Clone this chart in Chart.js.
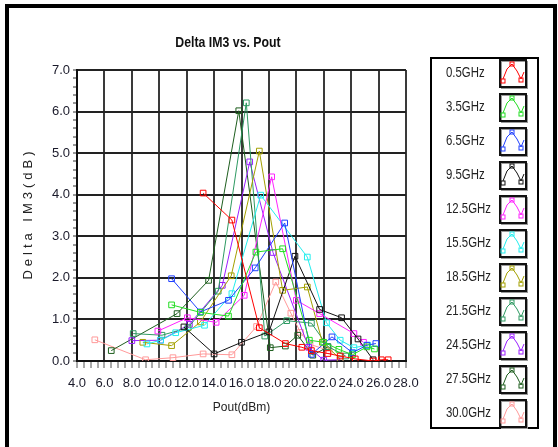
<!DOCTYPE html>
<html>
<head>
<meta charset="utf-8">
<script src="https://cdn.jsdelivr.net/npm/chart.js@4"></script>
<style>
html, body { margin: 0; padding: 0; background: #fff; }
#wrap { width: 558px; height: 447px; position: relative; }
</style>
</head>
<body>
<div id="wrap"><canvas id="chart"></canvas></div>
<script>
// frequencies shown in the legend
const freqLabels = ["0.5GHz", "3.5GHz", "6.5GHz", "9.5GHz", "12.5GHz", "15.5GHz",
                    "18.5GHz", "21.5GHz", "24.5GHz", "27.5GHz", "30.0GHz"];
const freqColors = ["#ff0000", "#22dd22", "#1f3fff", "#111111", "#ff22ff", "#22eeee",
                    "#a3a000", "#2e9a62", "#9a1fff", "#1e5e1e", "#ff9a9a"];

// Pout (dBm) / Delta IM3 (dB)
const pout05 = [13.2, 15.3, 17.3, 19.2, 20.4, 21.1, 22.3, 23.2, 24.3, 25.6, 26.2, 26.7];
const dim05  = [4.04, 3.39, 0.80, 0.42, 0.33, 0.25, 0.18, 0.12, 0.05, 0.0, 0.03, 0.03];

const pout35 = [10.9, 13.0, 15.05, 17.05, 19.0, 20.95, 22.0, 23.1, 24.1, 25.15, 25.7];
const dim35  = [1.35, 1.17, 1.08, 2.62, 2.70, 0.50, 0.45, 0.28, 0.15, 0.34, 0.29];

const pout65 = [10.9, 13.0, 15.05, 17.0, 19.15, 21.1, 22.6, 24.1, 25.15, 25.8];
const dim65  = [1.98, 1.18, 1.46, 2.24, 3.32, 0.16, 0.58, 0.20, 0.38, 0.42];

const pout95 = [11.8, 14.0, 16.0, 18.0, 19.9, 21.7, 23.3, 24.5, 25.6];
const dim95  = [0.82, 0.17, 0.45, 0.70, 2.52, 1.24, 1.04, 0.53, 0.03];

const pout125 = [9.9, 12.05, 14.15, 16.2, 18.2, 20.0, 21.7, 24.2, 24.9];
const dim125  = [0.72, 1.04, 0.93, 1.58, 4.43, 1.46, 1.14, 0.66, 0.45];

const pout155 = [9.1, 10.1, 11.2, 13.3, 15.3, 17.4, 20.8, 22.2, 23.2, 24.2, 25.2];
const dim155  = [0.41, 0.50, 0.68, 0.86, 1.62, 3.99, 2.50, 0.92, 0.50, 0.32, 0.38];

const pout185 = [8.8, 10.9, 13.0, 15.25, 17.3, 19.0, 20.8, 21.9, 23.2];
const dim185  = [0.45, 0.37, 0.94, 2.05, 5.05, 1.70, 1.78, 0.45, 0.05];

const pout215 = [8.1, 10.2, 12.1, 14.3, 16.35, 17.7, 19.3, 21.1, 22.3, 23.6];
const dim215  = [0.66, 0.62, 0.80, 1.68, 6.21, 0.60, 0.97, 0.91, 0.35, 0.12];

const pout245 = [8.0, 10.1, 12.2, 14.6, 16.6, 18.3, 20.9, 22.0, 23.2];
const dim245  = [0.49, 0.50, 0.88, 1.82, 4.79, 2.61, 0.33, 0.02, 0.03];

const pout275 = [6.5, 11.3, 13.6, 15.8, 18.1, 19.2, 20.1, 21.2, 22.3];
const dim275  = [0.25, 1.14, 1.94, 6.02, 0.32, 0.36, 0.62, 0.14, 0.34];

const pout300 = [5.3, 9.0, 11.0, 13.2, 15.3, 17.1, 18.5, 19.6, 20.3, 21.0, 22.4];
const dim300  = [0.51, 0.03, 0.08, 0.17, 0.15, 0.83, 1.90, 1.15, 0.69, 0.40, 0.25];

const allPout = [pout05, pout35, pout65, pout95, pout125, pout155, pout185, pout215, pout245, pout275, pout300];
const allDim  = [dim05, dim35, dim65, dim95, dim125, dim155, dim185, dim215, dim245, dim275, dim300];

const plain = "'Liberation Sans', Arial, sans-serif";

function onStep(v, step) {
    const r = v / step;
    return Math.abs(r - Math.round(r)) < 1e-6;
}

// squeezed text, the original uses a narrow font
function narrowText(ctx, text, x, y, sx, align) {
    ctx.save();
    ctx.translate(x, y);
    ctx.scale(sx, 1);
    ctx.textAlign = align;
    ctx.textBaseline = "middle";
    ctx.fillText(text, 0, 0);
    ctx.restore();
}

const datasets = freqLabels.map((name, i) => ({
    label: name,
    data: allPout[i].map((x, k) => ({ x: x, y: allDim[i][k] })),
    showLine: true,
    borderColor: freqColors[i],
    borderWidth: 1,
    pointStyle: "rect",
    pointRadius: 4,
    pointBorderWidth: 1,
    pointBorderColor: freqColors[i],
    pointBackgroundColor: "rgba(255,255,255,0)"
}));

// frame, title, y title and the boxed legend on the right
const decorations = {
    id: "decorations",
    beforeDraw(chart) {
        const ctx = chart.ctx;
        ctx.save();
        ctx.fillStyle = "#fff";
        ctx.fillRect(0, 0, chart.width, chart.height);
        ctx.restore();
    },
    afterDraw(chart) {
        const ctx = chart.ctx;
        const area = chart.chartArea;
        ctx.save();

        // outer frame
        ctx.strokeStyle = "#000";
        ctx.lineWidth = 4;
        ctx.beginPath();
        ctx.moveTo(7, 447);
        ctx.lineTo(7, 6);
        ctx.lineTo(555, 6);
        ctx.lineTo(555, 447);
        ctx.stroke();

        // title
        ctx.fillStyle = "#111";
        ctx.font = "bold 15px " + plain;
        narrowText(ctx, "Delta IM3 vs. Pout", 228, 43, 0.82, "center");

        // y title
        ctx.save();
        ctx.translate(28, (area.top + area.bottom) / 2);
        ctx.rotate(-Math.PI / 2);
        ctx.font = "13px " + plain;
        ctx.letterSpacing = "4px";
        ctx.fillStyle = "#222";
        ctx.textAlign = "center";
        ctx.textBaseline = "middle";
        ctx.fillText("Delta IM3(dB)", 2, 0);
        ctx.restore();

        // legend box
        ctx.strokeStyle = "#000";
        ctx.lineWidth = 2;
        ctx.strokeRect(431, 58, 107, 370);

        freqLabels.forEach((name, i) => {
            const yc = 73 + 34 * i;
            ctx.fillStyle = "#222";
            ctx.font = "15px " + plain;
            narrowText(ctx, name, 446, yc, 0.76, "left");

            const bx = 500, by = yc - 13;
            ctx.strokeStyle = "#999";
            ctx.lineWidth = 1;
            ctx.strokeRect(bx + 1.5, by + 1.5, 26, 27);
            ctx.strokeStyle = "#111";
            ctx.lineWidth = 2;
            ctx.strokeRect(bx, by, 26, 27);

            ctx.strokeStyle = freqColors[i];
            ctx.lineWidth = 1;
            ctx.beginPath();
            ctx.moveTo(bx + 3, by + 19);
            ctx.lineTo(bx + 7, by + 9);
            ctx.lineTo(bx + 12, by + 4);
            ctx.lineTo(bx + 17, by + 11);
            ctx.lineTo(bx + 21, by + 19);
            ctx.lineTo(bx + 24, by + 12);
            ctx.stroke();
            [[3, 21], [12, 4], [21, 20]].forEach(p => {
                ctx.strokeRect(bx + p[0] - 2, by + p[1] - 2, 4, 4);
            });
        });
        ctx.restore();
    }
};

new Chart(document.getElementById("chart"), {
    type: "scatter",
    data: { datasets: datasets },
    options: {
        responsive: true,
        maintainAspectRatio: false,
        animation: false,
        layout: { padding: { left: 0, right: 152, top: 70, bottom: 0 } },
        plugins: {
            legend: { display: false },
            title: { display: false },
            tooltip: { enabled: false }
        },
        scales: {
            x: {
                type: "linear",
                min: 4,
                max: 28,
                afterFit: s => { s.height = 86; },
                ticks: {
                    stepSize: 0.5,
                    autoSkip: false,
                    maxRotation: 0,
                    padding: 8,
                    color: "#1a1a2a",
                    font: { family: plain, size: 13 },
                    callback: v => onStep(v, 2) ? v.toFixed(1) : ""
                },
                grid: {
                    color: c => (c.tick && onStep(c.tick.value, 2)) ? "#3a3a3a" : "rgba(0,0,0,0)",
                    lineWidth: 2,
                    tickColor: "#555",
                    tickWidth: 1,
                    tickLength: 7
                },
                border: { display: true, color: "#111", width: 2 },
                title: {
                    display: true,
                    text: "Pout(dBm)",
                    color: "#222",
                    font: { family: plain, size: 12 },
                    padding: { top: 0, bottom: 32 }
                }
            },
            y: {
                type: "linear",
                min: 0,
                max: 7,
                afterFit: s => { s.width = 77; },
                ticks: {
                    stepSize: 0.2,
                    autoSkip: false,
                    padding: 3,
                    color: "#1a1a2a",
                    font: { family: plain, size: 13 },
                    callback: v => onStep(v, 1) ? v.toFixed(1) : ""
                },
                grid: {
                    color: c => (c.tick && onStep(c.tick.value, 1)) ? "#222" : "rgba(0,0,0,0)",
                    lineWidth: 2,
                    tickColor: "#333",
                    tickWidth: 1,
                    tickLength: 4
                },
                border: { display: true, color: "#111", width: 2 }
            }
        }
    },
    plugins: [decorations]
});
</script>
</body>
</html>
